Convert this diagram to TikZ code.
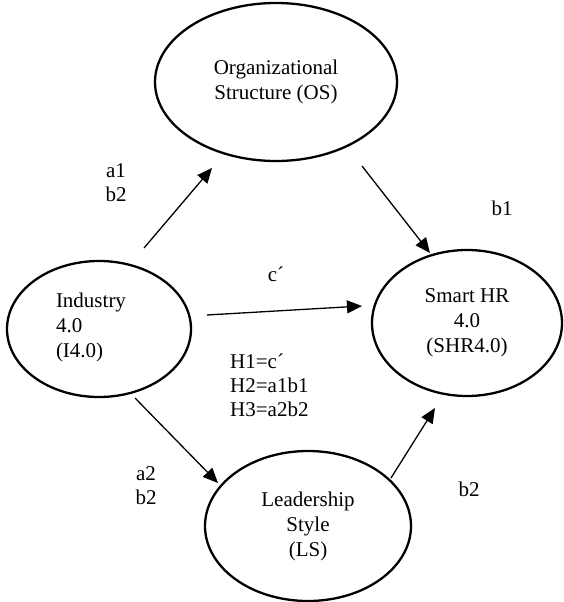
\documentclass[tikz,border=0pt]{standalone}
\usepackage{fontspec}
\setmainfont{Liberation Serif}
\usetikzlibrary{shapes.geometric,arrows.meta}

\tikzset{
  construct/.style={ellipse,draw,line width=2.3pt,inner sep=0pt,align=center,font=\fontsize{21}{25}\selectfont},
  path/.style={line width=1.3pt,-{Triangle[length=15pt,width=13pt]}},
  coef/.style={align=center,inner sep=0pt,font=\fontsize{21}{24}\selectfont}
}

\begin{document}
\begin{tikzpicture}[x=1pt,y=-1pt]
\useasboundingbox (0,0) rectangle (564,602);
% constructs
\node[construct,minimum width=242pt,minimum height=158pt] (os) at (276,82) {Organizational\\Structure (OS)};
\node[construct,minimum width=184pt,minimum height=136pt] (ind) at (99,329) {};
\node[coef,align=left,font=\fontsize{21}{25}\selectfont] (indtxt) at (91,327) {Industry\\4.0\\(I4.0)};
\node[construct,minimum width=190pt,minimum height=146pt] (shr) at (467,323) {Smart HR\\4.0\\(SHR4.0)};
\node[construct,minimum width=206pt,minimum height=150pt] (ls) at (308,526) {Leadership\\Style\\(LS)};
% arrow ends
\coordinate (a1s) at (144,248);
\coordinate (a1e) at (212,168);
\coordinate (b1s) at (362,166);
\coordinate (b1e) at (430,253);
\coordinate (cs) at (207,315);
\coordinate (ce) at (362,306);
\coordinate (a2s) at (135,398);
\coordinate (a2e) at (218,483);
\coordinate (b2s) at (391,478);
\coordinate (b2e) at (435,408);
\draw[path] (a1s) -- (a1e);
\draw[path] (b1s) -- (b1e);
\draw[path] (cs) -- (ce);
\draw[path] (a2s) -- (a2e);
\draw[path] (b2s) -- (b2e);
% coefficients
\node[coef] (la1) at (116,183) {a1\\b2};
\node[coef] (lb1) at (502,208) {b1};
\node[coef] (lc) at (276,274) {c´};
\node[coef,align=left,anchor=west] (lh) at (230,385) {H1=c´\\H2=a1b1\\H3=a2b2};
\node[coef] (la2) at (146,486) {a2\\b2};
\node[coef] (lb2) at (469,489) {b2};
\end{tikzpicture}
\end{document}
